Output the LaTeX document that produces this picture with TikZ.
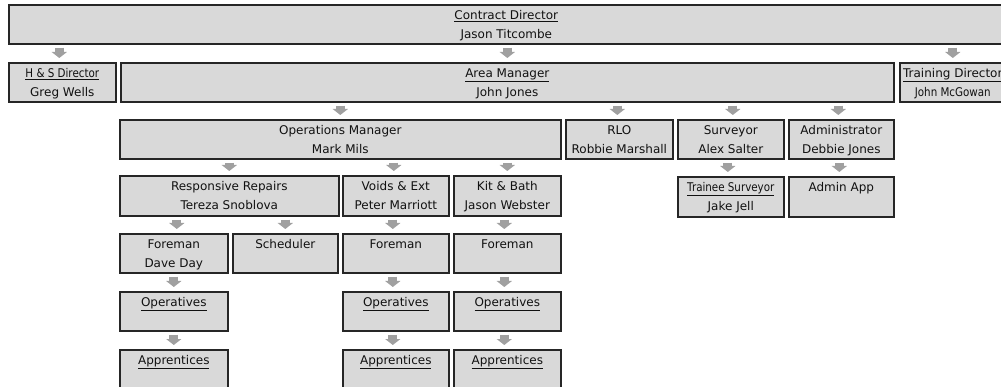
\documentclass[tikz,border=0pt]{standalone}
\usepackage{fontspec}
\setmainfont{DejaVu Sans}
\newfontfamily\narrowfont[FakeStretch=0.86]{DejaVu Sans}
\usetikzlibrary{arrows.meta}

\definecolor{boxfill}{HTML}{D9D9D9}
\definecolor{boxline}{HTML}{262626}
\definecolor{txt}{HTML}{111111}
\definecolor{arrowgray}{HTML}{A0A0A0}

% two centred lines, baseline on the first one
\newcommand{\twolines}[2]{\vtop{\halign{\hfil##\hfil\cr#1\cr#2\cr}}}

\tikzset{
  orgbox/.style={draw=boxline, fill=boxfill, line width=1.6pt, inner sep=0pt,
    anchor=north west, text height=15pt, text depth=24pt, text=txt,
    font=\fontsize{12}{18.5}\selectfont},
  tallbox/.style={orgbox, text depth=25pt},
  conn/.style={draw=arrowgray, line width=9pt, line cap=butt,
    -{Triangle[length=6pt, width=15pt]}, shorten <=3pt, shorten >=4pt}
}

\begin{document}
\begin{tikzpicture}[x=1pt, y=-1pt]
\useasboundingbox (0,0) rectangle (1001,387);
\clip (0,0) rectangle (1001,387);

% level 1
\node[orgbox, minimum width=995pt] (cd) at (8,4)
  {\twolines{\underline{Contract Director}}{Jason Titcombe}};

% level 2
\node[orgbox, minimum width=107pt] (hs) at (8,62)
  {\twolines{\narrowfont\underline{H \& S Director}}{Greg Wells}};
\node[orgbox, minimum width=773pt] (am) at (120,62)
  {\twolines{\underline{Area Manager}}{John Jones}};
\node[orgbox, minimum width=106pt] (td) at (899,62)
  {\twolines{\underline{Training Director}}{\narrowfont John McGowan}};

% level 3
\node[orgbox, minimum width=441pt] (om) at (119,119)
  {\twolines{Operations Manager}{Mark Mils}};
\node[orgbox, minimum width=107pt] (rlo) at (565,119)
  {\twolines{RLO}{Robbie Marshall}};
\node[orgbox, minimum width=106pt] (sv) at (677,119)
  {\twolines{Surveyor}{Alex Salter}};
\node[orgbox, minimum width=105pt] (ad) at (788,119)
  {\twolines{Administrator}{Debbie Jones}};

% level 4
\node[tallbox, minimum width=219pt] (rr) at (119,175)
  {\twolines{Responsive Repairs}{Tereza Snoblova}};
\node[tallbox, minimum width=106pt] (ve) at (342,175)
  {\twolines{Voids \& Ext}{Peter Marriott}};
\node[tallbox, minimum width=107pt] (kb) at (453,175)
  {\twolines{Kit \& Bath}{Jason Webster}};
\node[tallbox, minimum width=106pt] (ts) at (677,176)
  {\twolines{\narrowfont\underline{Trainee Surveyor}}{Jake Jell}};
\node[tallbox, minimum width=105pt] (aa) at (788,176) {Admin App};

% level 5
\node[orgbox, minimum width=108pt] (f1) at (119,233)
  {\twolines{Foreman}{Dave Day}};
\node[orgbox, minimum width=105pt] (sc) at (232,233) {Scheduler};
\node[orgbox, minimum width=106pt] (f2) at (342,233) {Foreman};
\node[orgbox, minimum width=107pt] (f3) at (453,233) {Foreman};

% level 6
\node[orgbox, minimum width=108pt] (o1) at (119,291) {\underline{Operatives}};
\node[orgbox, minimum width=106pt] (o2) at (342,291) {\underline{Operatives}};
\node[orgbox, minimum width=107pt] (o3) at (453,291) {\underline{Operatives}};

% level 7
\node[orgbox, minimum width=108pt] (a1) at (119,349) {\underline{Apprentices}};
\node[orgbox, minimum width=106pt] (a2) at (342,349) {\underline{Apprentices}};
\node[orgbox, minimum width=107pt] (a3) at (453,349) {\underline{Apprentices}};

% reporting lines
\draw[conn, transform canvas={xshift=-3pt}] (cd.south -| hs.north) -- (hs.north);
\draw[conn] (cd.south -| am.north) -- (am.north);
\draw[conn] (cd.south -| td.north) -- (td.north);

\draw[conn] (am.south -| om.north) -- (om.north);
\draw[conn, transform canvas={xshift=-2pt}] (am.south -| rlo.north) -- (rlo.north);
\draw[conn, transform canvas={xshift=2pt}] (am.south -| sv.north) -- (sv.north);
\draw[conn, transform canvas={xshift=-3pt}] (am.south -| ad.north) -- (ad.north);

\draw[conn] (om.south -| rr.north) -- (rr.north);
\draw[conn, transform canvas={xshift=-2pt}] (om.south -| ve.north) -- (ve.north);
\draw[conn] (om.south -| kb.north) -- (kb.north);

\draw[conn, transform canvas={xshift=3pt}] (rr.south -| f1.north) -- (f1.north);
\draw[conn] (rr.south -| sc.north) -- (sc.north);
\draw[conn, transform canvas={xshift=-3pt}] (ve.south -| f2.north) -- (f2.north);
\draw[conn, transform canvas={xshift=-3pt}] (kb.south -| f3.north) -- (f3.north);
\draw[conn, transform canvas={xshift=-3pt}] (sv.south -| ts.north) -- (ts.north);
\draw[conn, transform canvas={xshift=-2pt}] (ad.south -| aa.north) -- (aa.north);

\draw[conn] (f1.south -| o1.north) -- (o1.north);
\draw[conn, transform canvas={xshift=-3pt}] (f2.south -| o2.north) -- (o2.north);
\draw[conn, transform canvas={xshift=-3pt}] (f3.south -| o3.north) -- (o3.north);

\draw[conn] (o1.south -| a1.north) -- (a1.north);
\draw[conn, transform canvas={xshift=-3pt}] (o2.south -| a2.north) -- (a2.north);
\draw[conn, transform canvas={xshift=-3pt}] (o3.south -| a3.north) -- (a3.north);
\end{tikzpicture}
\end{document}
